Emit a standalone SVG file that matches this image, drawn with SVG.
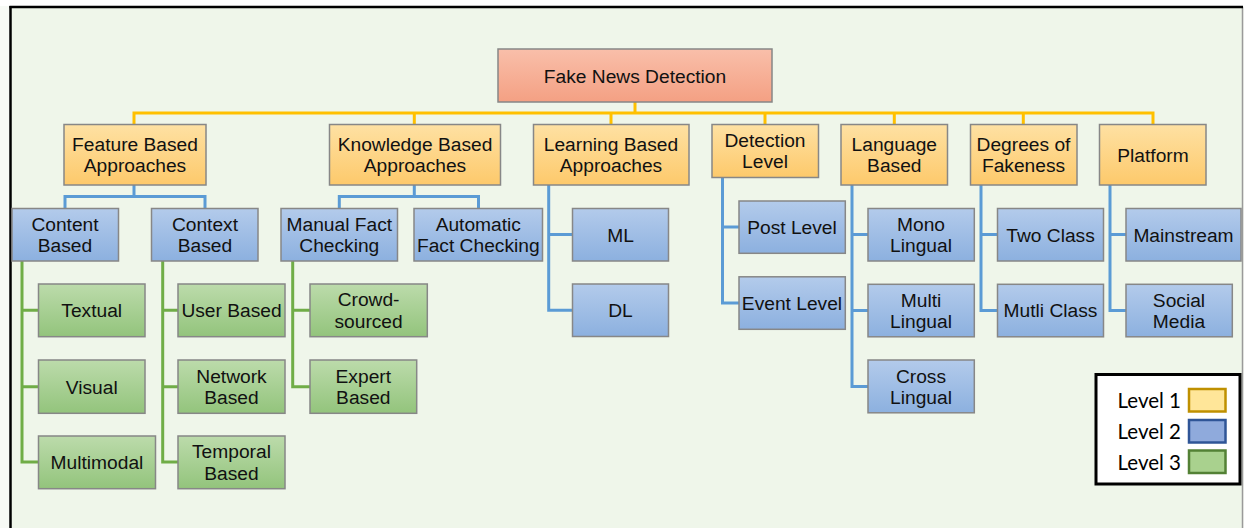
<svg xmlns="http://www.w3.org/2000/svg" width="1244" height="528" viewBox="0 0 1244 528">
  <defs>
    <linearGradient id="gRoot" x1="0" y1="0" x2="0" y2="1">
      <stop offset="0" stop-color="#f9bfaa"/>
      <stop offset="1" stop-color="#f4a083"/>
    </linearGradient>
    <linearGradient id="gL1" x1="0" y1="0" x2="0" y2="1">
      <stop offset="0" stop-color="#fee1a3"/>
      <stop offset="1" stop-color="#fdc96b"/>
    </linearGradient>
    <linearGradient id="gL2" x1="0" y1="0" x2="0" y2="1">
      <stop offset="0" stop-color="#b3cbeb"/>
      <stop offset="1" stop-color="#8cb0df"/>
    </linearGradient>
    <linearGradient id="gL3" x1="0" y1="0" x2="0" y2="1">
      <stop offset="0" stop-color="#bcdbab"/>
      <stop offset="1" stop-color="#93c47c"/>
    </linearGradient>
  </defs>
  <style>
    .box { stroke: #878787; stroke-width: 1.5; }
    .root { fill: url(#gRoot); }
    .l1 { fill: url(#gL1); }
    .l2 { fill: url(#gL2); }
    .l3 { fill: url(#gL3); }
    .lbl { font-family: "Liberation Sans", Arial, sans-serif; font-size: 19.2px; fill: #111; text-anchor: middle; }
    .wire { fill: none; stroke-width: 3; stroke-linejoin: miter; stroke-linecap: butt; }
    .y { stroke: #ffc000; }
    .b { stroke: #5b9bd5; }
    .g { stroke: #70ad47; }
    .leg { font-family: Lato, Carlito, "Liberation Sans", sans-serif; font-size: 20.5px; fill: #000; text-anchor: end; }
  </style>

  <!-- page and frame -->
  <rect x="0" y="0" width="1244" height="528" fill="#f7faf5"/>
  <rect x="0" y="0" width="1244" height="6" fill="#ffffff"/>
  <rect x="10.5" y="7" width="1232" height="521" fill="#eff6ea"/>
  <line x1="1242.5" y1="7" x2="1242.5" y2="528" stroke="#9a9a9a" stroke-width="1.5"/>
  <line x1="9.5" y1="7" x2="1243" y2="7" stroke="#000" stroke-width="2.5"/>
  <line x1="10.5" y1="6" x2="10.5" y2="528" stroke="#000" stroke-width="2.5"/>

  <!-- connectors -->
  <g id="connectors">
    <!-- root to level 1 -->
    <path class="wire y" d="M635 101.5V113 M134 124.5V113H1153V124.5 M414.3 113V124.5 M611 113V124.5 M765 113V124.5 M894.3 113V124.5 M1023.3 113V124.5"/>
    <!-- level 1 to level 2 -->
    <path class="wire b" d="M134 185V196.5 M65 208.5V196.5H205V208.5"/>
    <path class="wire b" d="M414.3 185V196.5 M339.3 208.5V196.5H478.5V208.5"/>
    <path class="wire b" d="M548.7 185V310.3H572.5 M548.7 234.5H572.5"/>
    <path class="wire b" d="M722.5 177.5V303H739 M722.5 227H739"/>
    <path class="wire b" d="M852 185V386.5H868 M852 234.5H868 M852 310.5H868"/>
    <path class="wire b" d="M981 185V310.5H997.5 M981 234.5H997.5"/>
    <path class="wire b" d="M1110 185V310.5H1126 M1110 234.5H1126"/>
    <!-- level 2 to level 3 -->
    <path class="wire g" d="M22 261V462H38.5 M22 310.3H38.5 M22 386.7H38.5"/>
    <path class="wire g" d="M162.7 261V462H178 M162.7 310.3H178 M162.7 386.7H178"/>
    <path class="wire g" d="M292.7 261V386.7H310 M292.7 310.3H310"/>
  </g>

  <!-- root -->
  <g id="fake-news-detection">
    <rect class="box root" x="498" y="49" width="274" height="53"/>
    <text class="lbl" x="635" y="82.5">Fake News Detection</text>
  </g>

  <!-- level 1 -->
  <g id="feature-based">
    <rect class="box l1" x="64" y="124.5" width="142" height="60.5"/>
    <text class="lbl" x="135" y="150.9">Feature Based<tspan x="135" dy="21.5">Approaches</tspan></text>
  </g>
  <g id="knowledge-based">
    <rect class="box l1" x="329.5" y="124.5" width="171" height="60.5"/>
    <text class="lbl" x="415" y="150.9">Knowledge Based<tspan x="415" dy="21.5">Approaches</tspan></text>
  </g>
  <g id="learning-based">
    <rect class="box l1" x="533.5" y="124.5" width="155.5" height="60.5"/>
    <text class="lbl" x="611" y="150.9">Learning Based<tspan x="611" dy="21.5">Approaches</tspan></text>
  </g>
  <g id="detection-level">
    <rect class="box l1" x="712" y="124.5" width="106.5" height="53"/>
    <text class="lbl" x="765" y="146.6">Detection<tspan x="765" dy="21.5">Level</tspan></text>
  </g>
  <g id="language-based">
    <rect class="box l1" x="841" y="124.5" width="106.5" height="60.5"/>
    <text class="lbl" x="894.3" y="150.9">Language<tspan x="894.3" dy="21.5">Based</tspan></text>
  </g>
  <g id="degrees-of-fakeness">
    <rect class="box l1" x="970.5" y="124.5" width="106.5" height="60.5"/>
    <text class="lbl" x="1023.5" y="150.9">Degrees of<tspan x="1023.5" dy="21.5">Fakeness</tspan></text>
  </g>
  <g id="platform">
    <rect class="box l1" x="1099.5" y="124.5" width="106.5" height="60.5"/>
    <text class="lbl" x="1153" y="161.5">Platform</text>
  </g>

  <!-- level 2 -->
  <g id="content-based">
    <rect class="box l2" x="12" y="208.5" width="106.5" height="52.5"/>
    <text class="lbl" x="65" y="230.9">Content<tspan x="65" dy="21.5">Based</tspan></text>
  </g>
  <g id="context-based">
    <rect class="box l2" x="151.5" y="208.5" width="106.5" height="52.5"/>
    <text class="lbl" x="205" y="230.9">Context<tspan x="205" dy="21.5">Based</tspan></text>
  </g>
  <g id="manual-fact-checking">
    <rect class="box l2" x="281" y="208.5" width="116.5" height="52.5"/>
    <text class="lbl" x="339.3" y="230.9">Manual Fact<tspan x="339.3" dy="21.5">Checking</tspan></text>
  </g>
  <g id="automatic-fact-checking">
    <rect class="box l2" x="414" y="208.5" width="128.5" height="52.5"/>
    <text class="lbl" x="478.3" y="230.9">Automatic<tspan x="478.3" dy="21.5">Fact Checking</tspan></text>
  </g>
  <g id="ml">
    <rect class="box l2" x="572.5" y="208.5" width="96" height="52.5"/>
    <text class="lbl" x="620.5" y="241.5">ML</text>
  </g>
  <g id="dl">
    <rect class="box l2" x="572.5" y="284" width="96" height="52.5"/>
    <text class="lbl" x="620.5" y="317">DL</text>
  </g>
  <g id="post-level">
    <rect class="box l2" x="739" y="201" width="106.3" height="52.3"/>
    <text class="lbl" x="792" y="234">Post Level</text>
  </g>
  <g id="event-level">
    <rect class="box l2" x="739" y="276.8" width="106.3" height="52.5"/>
    <text class="lbl" x="792" y="310">Event Level</text>
  </g>
  <g id="mono-lingual">
    <rect class="box l2" x="868" y="208.5" width="106.3" height="52.5"/>
    <text class="lbl" x="921" y="230.9">Mono<tspan x="921" dy="21.5">Lingual</tspan></text>
  </g>
  <g id="multi-lingual">
    <rect class="box l2" x="868" y="284.3" width="106.3" height="52.5"/>
    <text class="lbl" x="921" y="306.6">Multi<tspan x="921" dy="21.5">Lingual</tspan></text>
  </g>
  <g id="cross-lingual">
    <rect class="box l2" x="868" y="360" width="106.3" height="52.8"/>
    <text class="lbl" x="921" y="382.6">Cross<tspan x="921" dy="21.5">Lingual</tspan></text>
  </g>
  <g id="two-class">
    <rect class="box l2" x="997.5" y="208.5" width="106" height="52.5"/>
    <text class="lbl" x="1050.5" y="241.5">Two Class</text>
  </g>
  <g id="mutli-class">
    <rect class="box l2" x="997.5" y="284.3" width="106" height="52.5"/>
    <text class="lbl" x="1050.5" y="317">Mutli Class</text>
  </g>
  <g id="mainstream">
    <rect class="box l2" x="1126" y="208.5" width="115" height="52.5"/>
    <text class="lbl" x="1183.5" y="241.5">Mainstream</text>
  </g>
  <g id="social-media">
    <rect class="box l2" x="1126" y="284.3" width="106.3" height="52.5"/>
    <text class="lbl" x="1179" y="306.6">Social<tspan x="1179" dy="21.5">Media</tspan></text>
  </g>

  <!-- level 3 -->
  <g id="textual">
    <rect class="box l3" x="38.5" y="284" width="106.5" height="52.7"/>
    <text class="lbl" x="91.7" y="317">Textual</text>
  </g>
  <g id="visual">
    <rect class="box l3" x="38.5" y="360" width="106.5" height="53.3"/>
    <text class="lbl" x="91.7" y="393.5">Visual</text>
  </g>
  <g id="multimodal">
    <rect class="box l3" x="38.5" y="436" width="117" height="52.7"/>
    <text class="lbl" x="97" y="469">Multimodal</text>
  </g>
  <g id="user-based">
    <rect class="box l3" x="178" y="284" width="107" height="52.7"/>
    <text class="lbl" x="231.5" y="317">User Based</text>
  </g>
  <g id="network-based">
    <rect class="box l3" x="178" y="360" width="107" height="53.3"/>
    <text class="lbl" x="231.5" y="382.6">Network<tspan x="231.5" dy="21.5">Based</tspan></text>
  </g>
  <g id="temporal-based">
    <rect class="box l3" x="178" y="436" width="107" height="52.7"/>
    <text class="lbl" x="231.5" y="458.4">Temporal<tspan x="231.5" dy="21.5">Based</tspan></text>
  </g>
  <g id="crowd-sourced">
    <rect class="box l3" x="310" y="284" width="117.3" height="52.7"/>
    <text class="lbl" x="368.6" y="306.4">Crowd-<tspan x="368.6" dy="21.5">sourced</tspan></text>
  </g>
  <g id="expert-based">
    <rect class="box l3" x="310" y="360" width="106.7" height="53.3"/>
    <text class="lbl" x="363.3" y="382.6">Expert<tspan x="363.3" dy="21.5">Based</tspan></text>
  </g>

  <!-- legend -->
  <g id="legend">
    <rect x="1096" y="374.5" width="144" height="109.5" fill="#ffffff" stroke="#000" stroke-width="3"/>
    <text class="leg" x="1181" y="408">Level 1</text>
    <rect x="1189" y="389" width="36.5" height="22.5" fill="#ffe699" stroke="#bf9000" stroke-width="2.5"/>
    <text class="leg" x="1181" y="439">Level 2</text>
    <rect x="1189" y="420" width="36.5" height="22.5" fill="#8faadc" stroke="#2f5597" stroke-width="2.5"/>
    <text class="leg" x="1181" y="469.5">Level 3</text>
    <rect x="1189" y="450.5" width="36.5" height="22.5" fill="#a9d18e" stroke="#538135" stroke-width="2.5"/>
  </g>
</svg>
